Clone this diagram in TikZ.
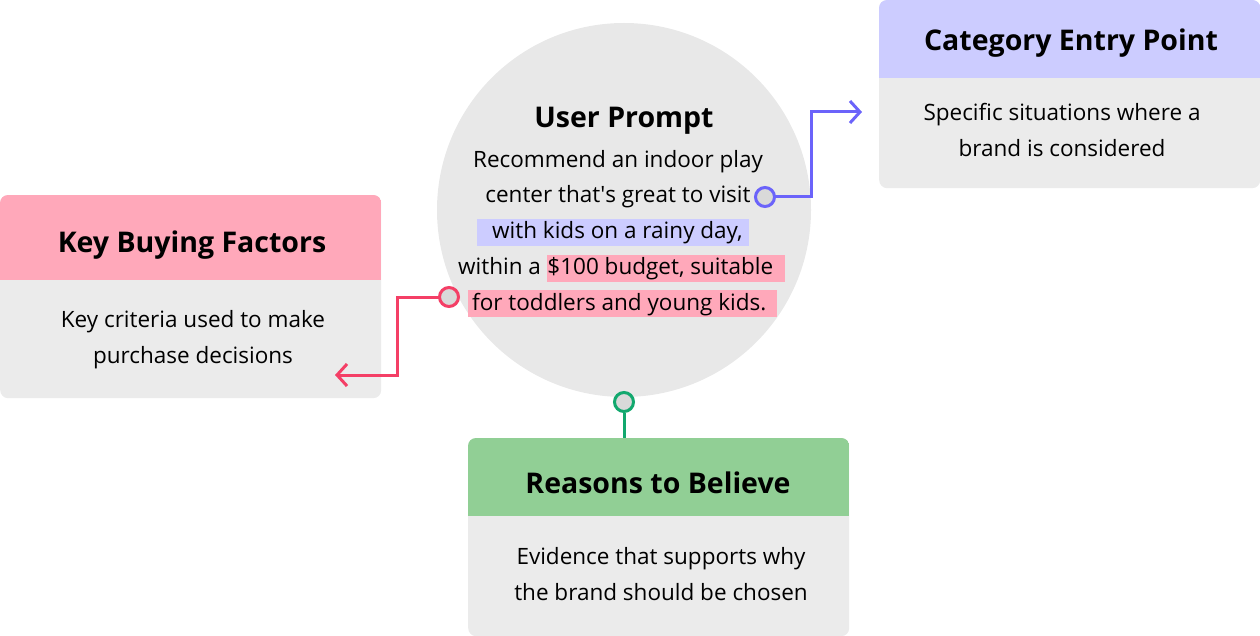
\documentclass[tikz,border=0pt]{standalone}
\usepackage{fontspec}
\setmainfont{Open Sans}
\usetikzlibrary{arrows.meta}

\definecolor{bubblegray}{HTML}{E8E8E8}
\definecolor{cardgray}{HTML}{EBEBEB}
\definecolor{knobgray}{HTML}{D9D9D9}
\definecolor{ceplav}{HTML}{CCCCFF}
\definecolor{kbfpink}{HTML}{FFA8BA}
\definecolor{rtbgreen}{HTML}{91CF95}
\definecolor{cepblue}{HTML}{6B63FA}
\definecolor{kbfred}{HTML}{F43F66}
\definecolor{rtbdark}{HTML}{12A86E}

\tikzset{
  card/.style={fill=cardgray, rounded corners=8pt, inner sep=0pt, anchor=north west},
  cardhead/.style={fill=#1, inner sep=0pt, anchor=north west},
  cardtitle/.style={font=\fontsize{28.5}{32}\selectfont\bfseries, anchor=base, inner sep=0pt},
  cardtext/.style={font=\fontsize{22.5}{36}\selectfont, align=center, inner sep=0pt},
  promptline/.style={font=\fontsize{22.5}{26}\selectfont, anchor=base, inner sep=0pt},
  hl/.style={promptline, anchor=base west, fill=#1, text height=20pt, text depth=7pt},
  knob/.style={circle, draw=#1, fill=knobgray, line width=3pt, minimum size=19pt, inner sep=0pt},
  link/.style={draw=#1, line width=3pt, -{Straight Barb[length=10pt,width=22pt]}},
}

\begin{document}
\begin{tikzpicture}[x=1pt,y=-1pt]
\useasboundingbox (0,0) rectangle (1260,636);

% prompt bubble
\node[circle, fill=bubblegray, minimum size=374pt, inner sep=0pt] (prompt) at (624,210) {};
\node[cardtitle] (prompttitle) at (624,128) {User Prompt};
\node[promptline] (line1) at (618,168) {Recommend an indoor play};
\node[promptline] (line2) at (618,203) {center that\textquotesingle s great to visit};
\node[hl=ceplav] (line3) at (477,239) {\hspace*{15pt}with kids on a rainy day,\hspace*{6pt}};
\node[promptline, anchor=base west] (line4a) at (458,275) {within a};
\node[hl=kbfpink] (line4b) at ([xshift=6pt]line4a.base east) {\$100 budget, suitable\hspace*{12pt}};
\node[hl=kbfpink] (line5) at (468,310) {\hspace*{4pt}for toddlers and young kids.\hspace*{11pt}};

% cards
\node[card, minimum width=381pt, minimum height=188pt] (cep) at (879,0) {};
\node[card, minimum width=381pt, minimum height=203pt] (kbf) at (0,195) {};
\node[card, minimum width=381pt, minimum height=198pt] (rtb) at (468,438) {};

\begin{scope}
\clip[rounded corners=8pt] (cep.north west) rectangle (cep.south east);
\node[cardhead=ceplav, minimum width=381pt, minimum height=78pt] (cephead) at (cep.north west) {};
\end{scope}
\begin{scope}
\clip[rounded corners=8pt] (kbf.north west) rectangle (kbf.south east);
\node[cardhead=kbfpink, minimum width=381pt, minimum height=85pt] (kbfhead) at (kbf.north west) {};
\end{scope}
\begin{scope}
\clip[rounded corners=8pt] (rtb.north west) rectangle (rtb.south east);
\node[cardhead=rtbgreen, minimum width=381pt, minimum height=78pt] (rtbhead) at (rtb.north west) {};
\end{scope}

\node[cardtitle] (ceptitle) at (1071,51) {Category Entry Point};
\node[cardtitle] (kbftitle) at (192,253) {Key Buying Factors};
\node[cardtitle] (rtbtitle) at (658,493) {Reasons to Believe};

\node[cardtext] (ceptext) at (1062,130) {Specific situations where a\\brand is considered};
\node[cardtext] (kbftext) at (193,340) {Key criteria used to make\\purchase decisions};
\node[cardtext] (rtbtext) at (661,574) {Evidence that supports why\\the brand should be chosen};

% connectors
\coordinate (cepend) at (862,112);
\coordinate (kbfend) at (335,375);
\draw[link=cepblue] (765,197) -| ([xshift=-51pt]cepend) -- (cepend);
\draw[link=kbfred] (449,297) -| ([xshift=62pt]kbfend) -- (kbfend);
\node[knob=cepblue] (cepknob) at (765,197) {};
\node[knob=kbfred] (kbfknob) at (449,297) {};
\node[knob=rtbdark] (rtbknob) at (624,402) {};
\draw[draw=rtbdark, line width=3pt] (rtbknob.south) -- (rtbknob.south |- rtb.north);
\end{tikzpicture}
\end{document}
